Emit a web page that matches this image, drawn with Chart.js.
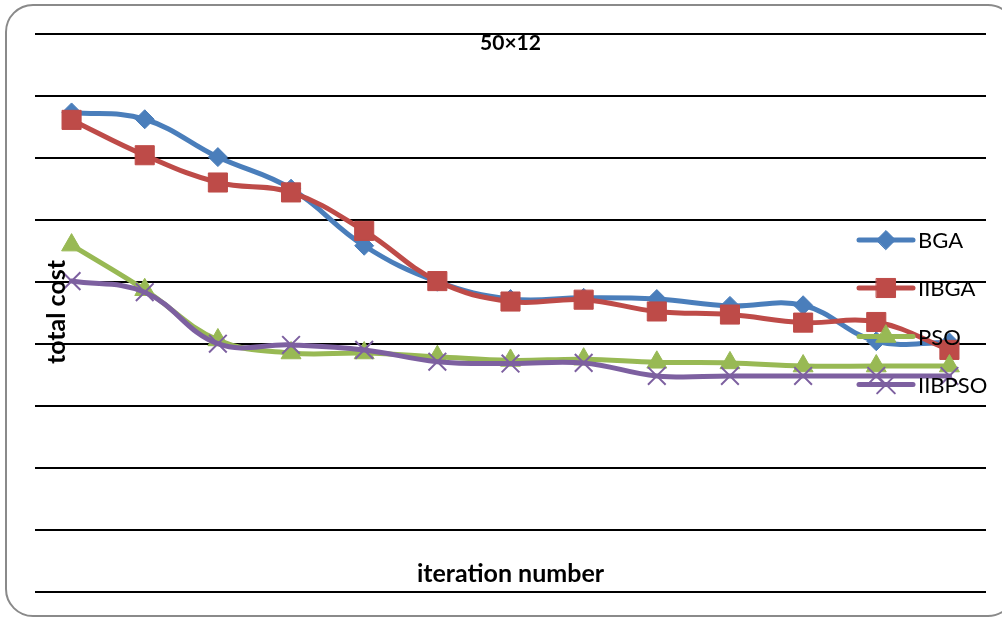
<!DOCTYPE html>
<html>
<head>
<meta charset="utf-8">
<script src="https://cdn.jsdelivr.net/npm/chart.js@4/dist/chart.umd.min.js"></script>
<style>
  html, body { margin: 0; padding: 0; background: #ffffff; }
  #wrap { position: relative; width: 1002px; height: 618px; }
</style>
</head>
<body>
<div id="wrap"><canvas id="c" width="1002" height="618"></canvas></div>
<script>
// Iterations along the horizontal axis (labels are not printed)
const iterations = ['1', '2', '3', '4', '5', '6', '7', '8', '9', '10', '11', '12', '13'];

// Total cost per iteration for each algorithm
const bga    = [773, 762, 701, 650, 558, 500, 472, 474, 472, 461, 462, 404, 402];
const iibga  = [761, 704, 660, 644, 582, 501, 468, 471, 452, 447, 434, 435, 390];
const pso    = [559, 487, 406, 385, 385, 379, 373, 375, 370, 369, 364, 364, 364];
const iibpso = [501, 483, 400, 398, 390, 371, 368, 369, 348, 348, 348, 348, 348];

const seriesNames = ['BGA', 'IIBGA', 'PSO', 'IIBPSO'];
const chartTitle = '50×12';
const xTitle = 'iteration number';
const yTitle = 'total cost';

// Value axis range and gridline step
const yMin = 0, yMax = 900, yStep = 100;

const FONT = 'Lato, "Open Sans", sans-serif';

// Rounded frame around the whole chart (right side runs past the canvas edge)
const framePlugin = {
  id: 'frame',
  beforeDraw(chart) {
    const ctx = chart.ctx;
    ctx.save();
    ctx.fillStyle = '#ffffff';
    ctx.fillRect(0, 0, chart.width, chart.height);
    const x = 6, y = 5, w = 1009, h = 611, r = 27;
    ctx.beginPath();
    ctx.moveTo(x + r, y);
    ctx.lineTo(x + w - r, y);
    ctx.arcTo(x + w, y, x + w, y + r, r);
    ctx.lineTo(x + w, y + h - r);
    ctx.arcTo(x + w, y + h, x + w - r, y + h, r);
    ctx.lineTo(x + r, y + h);
    ctx.arcTo(x, y + h, x, y + h - r, r);
    ctx.lineTo(x, y + r);
    ctx.arcTo(x, y, x + r, y, r);
    ctx.closePath();
    ctx.strokeStyle = '#8a8a8a';
    ctx.lineWidth = 2;
    ctx.stroke();
    ctx.restore();
  }
};

// Titles and the legend, drawn over the plot area
const overlayPlugin = {
  id: 'overlay',
  afterDraw(chart) {
    const ctx = chart.ctx;
    const area = chart.chartArea;
    ctx.save();
    ctx.fillStyle = '#000000';

    // chart title
    ctx.font = 'bold 21px ' + FONT;
    ctx.textAlign = 'center';
    ctx.textBaseline = 'alphabetic';
    ctx.fillText(chartTitle, (area.left + area.right) / 2, 50);

    // x axis title
    ctx.font = 'bold 25px ' + FONT;
    ctx.fillText(xTitle, (area.left + area.right) / 2, 582);

    // y axis title
    ctx.save();
    ctx.translate(65, 312);
    ctx.rotate(-Math.PI / 2);
    ctx.fillText(yTitle, 0, 0);
    ctx.restore();

    // legend
    const lx0 = 859, lx1 = 913, tx = 918;
    const ys = [240, 288, 336.5, 384.5];
    chart.data.datasets.forEach((ds, i) => {
      const y = ys[i];
      ctx.beginPath();
      ctx.moveTo(lx0, y);
      ctx.lineTo(lx1, y);
      ctx.strokeStyle = ds.borderColor;
      ctx.lineWidth = ds.borderWidth;
      ctx.lineCap = 'round';
      ctx.stroke();
      ctx.fillStyle = ds.pointBackgroundColor;
      ctx.strokeStyle = ds.pointBorderColor;
      ctx.lineWidth = ds.pointBorderWidth;
      Chart.helpers.drawPoint(ctx, {
        pointStyle: ds.pointStyle,
        radius: ds.pointRadius,
        rotation: 0,
        borderWidth: ds.pointBorderWidth
      }, (lx0 + lx1) / 2, y);
      ctx.fillStyle = '#000000';
      ctx.font = '22px ' + FONT;
      ctx.textAlign = 'left';
      ctx.textBaseline = 'middle';
      ctx.fillText(ds.label, tx, y + 1);
    });
    ctx.restore();
  }
};

function series(label, data, color, style, radius, pbw, order) {
  return {
    label, data, order,
    borderColor: color,
    backgroundColor: color,
    borderWidth: 5,
    borderCapStyle: 'round',
    borderJoinStyle: 'round',
    tension: 0.4,
    pointStyle: style,
    pointRadius: radius,
    pointBackgroundColor: color,
    pointBorderColor: color,
    pointBorderWidth: pbw,
    fill: false
  };
}

const datasets = [
  series(seriesNames[0], bga,    '#4A7EBB', 'rectRot',  9.5,  1, 4),
  series(seriesNames[1], iibga,  '#BE4B48', 'rect',     13.5, 1, 3),
  series(seriesNames[2], pso,    '#98B954', 'triangle', 11.5, 1, 2),
  series(seriesNames[3], iibpso, '#7D60A0', 'crossRot', 12.5, 2, 1)
];

const zeroFit = (scale) => {
  if (scale.isHorizontal()) scale.height = 0; else scale.width = 0;
};

const chart = new Chart(document.getElementById('c'), {
  type: 'line',
  data: { labels: iterations, datasets },
  options: {
    responsive: false,
    animation: false,
    devicePixelRatio: 1,
    layout: { padding: { left: 35, right: 16, top: 33.7, bottom: 26.3 } },
    plugins: {
      legend: { display: false },
      title: { display: false },
      tooltip: { enabled: false }
    },
    scales: {
      x: {
        type: 'category',
        offset: true,
        grid: { display: false, drawTicks: false },
        border: { display: false },
        ticks: { display: false },
        afterFit: zeroFit
      },
      y: {
        min: yMin,
        max: yMax,
        ticks: { display: false, stepSize: yStep },
        grid: { color: '#000000', lineWidth: 2, drawTicks: false },
        border: { display: false },
        afterFit: zeroFit
      }
    }
  },
  plugins: [framePlugin, overlayPlugin]
});
</script>
</body>
</html>
